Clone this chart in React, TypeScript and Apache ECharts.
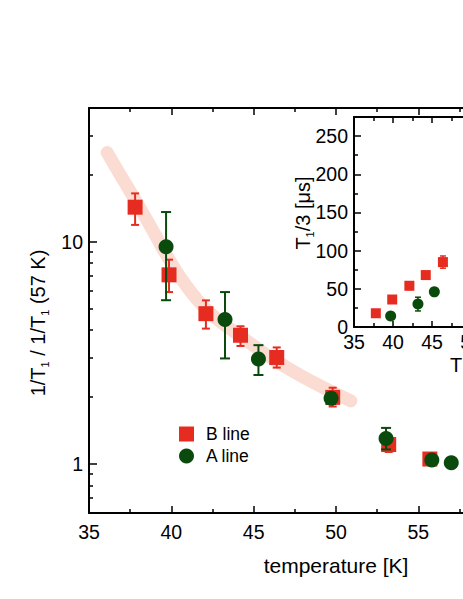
import React, { useEffect, useRef } from "react";
import * as echarts from "echarts";

// ---- main panel data: 1/T1 normalised to 57 K ----
const bLineT = [37.8, 39.86, 42.1, 44.2, 46.4, 49.8, 53.2, 55.7];
const bLineRate = [14.3, 7.09, 4.74, 3.79, 3.01, 1.99, 1.22, 1.05];
const bLineLow = [11.9, 5.93, 4.06, 3.39, 2.71, 1.81, 1.13, 1.01];
const bLineHigh = [16.5, 8.3, 5.44, 4.16, 3.34, 2.2, 1.31, 1.09];

const aLineT = [39.68, 43.26, 45.29, 49.7, 53.04, 55.82, 57.0];
const aLineRate = [9.5, 4.46, 2.96, 1.97, 1.3, 1.04, 1.01];
const aLineLow = [5.45, 2.98, 2.51, 1.86, 1.16, 1.0, 0.97];
const aLineHigh = [13.6, 5.93, 3.42, 2.08, 1.45, 1.08, 1.06];

// guide-to-the-eye band
const bandT = [36.1, 37.0, 38.0, 39.0, 40.0, 41.0, 42.0, 43.0, 44.0, 46.0, 48.0, 50.9];
const bandRate = [25.2, 19.4, 14.6, 10.8, 8.0, 6.2, 5.05, 4.35, 3.85, 3.02, 2.46, 1.92];

// ---- inset data: T1/3 in microseconds ----
const insetBT = [37.8, 39.9, 42.1, 44.2, 46.4];
const insetBVal = [18, 36, 54, 68, 85];
const insetBErr = [2, 3, 5, 3, 8];
const insetAT = [39.7, 43.2, 45.3, 49.7];
const insetAVal = [14.5, 30, 46, 69];
const insetAErr = [2, 9, 3, 3];

// ---- tick values ----
const mainYMajor = [1, 10];
const mainYMinor = [0.7, 0.8, 0.9, 2, 3, 4, 5, 6, 7, 8, 9, 20, 30];
const insetYMajor = [0, 50, 100, 150, 200, 250];
const insetYMinor = [25, 75, 125, 175, 225];

const FONT = '"Liberation Sans", Arial, Helvetica, sans-serif';
const RED = "#e62c20";
const GREEN = "#0a4a0c";
const BAND = "#fbdcd3";

function errRender(capHalf: number, color: string, width: number) {
  return (params: any, api: any) => {
    const x = api.value(0);
    const lo = api.value(1);
    const hi = api.value(2);
    const pHi = api.coord([x, hi]);
    const pLo = api.coord([x, lo]);
    const style = { stroke: color, lineWidth: width };
    return {
      type: "group",
      children: [
        { type: "line", shape: { x1: pHi[0], y1: pHi[1], x2: pLo[0], y2: pLo[1] }, style },
        { type: "line", shape: { x1: pHi[0] - capHalf, y1: pHi[1], x2: pHi[0] + capHalf, y2: pHi[1] }, style },
        { type: "line", shape: { x1: pLo[0] - capHalf, y1: pLo[1], x2: pLo[0] + capHalf, y2: pLo[1] }, style },
      ],
    };
  };
}

const axisLineStyle = { color: "#000", width: 2 };
const tickStyle = { color: "#000", width: 1.5 };
const labelStyle = { color: "#000", fontSize: 19.5, fontFamily: FONT };

export default function App() {
  const ref = useRef<HTMLDivElement>(null);
  useEffect(() => {
    if (!ref.current) return;
    const chart = echarts.init(ref.current, null, { renderer: "svg" });
    const lmin = Math.log10(0.6);
    const lmax = Math.log10(40);

    const xMainCommon = {
      type: "value",
      gridIndex: 0,
      min: 35,
      max: 65,
      interval: 5,
      splitLine: { show: false },
      axisLine: { onZero: false, lineStyle: axisLineStyle },
      axisTick: { inside: true, length: 7, lineStyle: tickStyle },
      minorTick: { show: true, splitNumber: 2, length: 4, lineStyle: tickStyle },
    };
    const xInsetCommon = {
      type: "value",
      gridIndex: 1,
      min: 35,
      max: 65,
      interval: 5,
      splitLine: { show: false },
      axisLine: { onZero: false, lineStyle: axisLineStyle },
      axisTick: { inside: true, length: 6, lineStyle: tickStyle },
      minorTick: { show: true, splitNumber: 2, length: 4, lineStyle: tickStyle },
    };

    chart.setOption({
      animation: false,
      backgroundColor: "#fff",
      textStyle: { fontFamily: FONT },
      grid: [
        { left: 89, top: 108, width: 494, height: 405 },
        { left: 354, top: 117, width: 234, height: 210 },
      ],
      legend: {
        orient: "vertical",
        left: 174,
        top: 420,
        itemWidth: 15,
        itemHeight: 15,
        itemGap: 4,
        textStyle: { fontSize: 17.5, color: "#000", fontFamily: FONT, padding: [0, 0, 0, 7] },
        data: [
          { name: "B line", icon: "rect" },
          { name: "A line", icon: "circle" },
        ],
      },
      xAxis: [
        {
          ...xMainCommon,
          position: "bottom",
          axisLabel: { ...labelStyle, margin: 9 },
          name: "temperature [K]",
          nameLocation: "middle",
          nameGap: 42,
          nameTextStyle: { fontSize: 21, color: "#000", fontFamily: FONT },
        },
        { ...xMainCommon, position: "top", axisLabel: { show: false } },
        {
          ...xInsetCommon,
          position: "bottom",
          axisLabel: { ...labelStyle, margin: 5 },
          name: "T [K]",
          nameLocation: "middle",
          nameGap: 28,
          nameTextStyle: { fontSize: 20, color: "#000", fontFamily: FONT },
        },
        { ...xInsetCommon, position: "top", axisLabel: { show: false } },
      ],
      yAxis: [
        { type: "log", gridIndex: 0, min: 0.6, max: 40, logBase: 10, show: false },
        {
          type: "value",
          gridIndex: 0,
          position: "left",
          min: lmin,
          max: lmax,
          splitLine: { show: false },
          axisLine: { show: true, onZero: false, lineStyle: axisLineStyle },
          axisTick: {
            inside: true,
            length: 8,
            lineStyle: tickStyle,
            customValues: mainYMajor.map((v) => Math.log10(v)),
          },
          axisLabel: {
            ...labelStyle,
            margin: 6,
            customValues: mainYMajor.map((v) => Math.log10(v)),
            formatter: (v: number) => String(Math.round(Math.pow(10, v))),
          },
        },
        {
          type: "value",
          gridIndex: 0,
          position: "left",
          min: lmin,
          max: lmax,
          splitLine: { show: false },
          axisLine: { show: false, onZero: false },
          axisTick: {
            inside: true,
            length: 4,
            lineStyle: tickStyle,
            customValues: mainYMinor.map((v) => Math.log10(v)),
          },
          axisLabel: { show: false },
        },
        {
          type: "value",
          gridIndex: 1,
          position: "left",
          min: 0,
          max: 275,
          splitLine: { show: false },
          axisLine: { show: true, onZero: false, lineStyle: axisLineStyle },
          axisTick: { inside: true, length: 7, lineStyle: tickStyle, customValues: insetYMajor },
          axisLabel: { ...labelStyle, margin: 6, customValues: insetYMajor },
        },
        {
          type: "value",
          gridIndex: 1,
          position: "left",
          min: 0,
          max: 275,
          splitLine: { show: false },
          axisLine: { show: false, onZero: false },
          axisTick: { inside: true, length: 4, lineStyle: tickStyle, customValues: insetYMinor },
          axisLabel: { show: false },
        },
      ],
      graphic: [
        {
          type: "text",
          x: 38,
          y: 323,
          rotation: Math.PI / 2,
          style: {
            text: "1/T{s|1} / 1/T{s|1} (57 K)",
            fontSize: 20,
            fontFamily: FONT,
            fill: "#000",
            lineHeight: 24,
            align: "center",
            verticalAlign: "middle",
            rich: { s: { fontSize: 11, lineHeight: 11, verticalAlign: "bottom", fontFamily: FONT, fill: "#000" } },
          },
        },
        {
          type: "text",
          x: 303,
          y: 213,
          rotation: Math.PI / 2,
          style: {
            text: "T{s|1}/3 [μs]",
            fontSize: 20,
            fontFamily: FONT,
            fill: "#000",
            lineHeight: 24,
            align: "center",
            verticalAlign: "middle",
            rich: { s: { fontSize: 11, lineHeight: 11, verticalAlign: "bottom", fontFamily: FONT, fill: "#000" } },
          },
        },
      ],
      series: [
        {
          type: "line",
          name: "band",
          xAxisIndex: 0,
          yAxisIndex: 0,
          data: bandT.map((t, i) => [t, bandRate[i]]),
          smooth: 0.5,
          symbol: "none",
          lineStyle: { color: BAND, width: 13, cap: "round", join: "round" },
          z: 1,
        },
        {
          type: "custom",
          name: "B err",
          xAxisIndex: 0,
          yAxisIndex: 0,
          renderItem: errRender(4, RED, 2),
          data: bLineT.map((t, i) => [t, bLineLow[i], bLineHigh[i]]),
          encode: { x: 0, y: [1, 2] },
          z: 2,
        },
        {
          type: "scatter",
          name: "B line",
          xAxisIndex: 0,
          yAxisIndex: 0,
          symbol: "rect",
          symbolSize: 15,
          itemStyle: { color: RED, opacity: 1 },
          data: bLineT.map((t, i) => [t, bLineRate[i]]),
          z: 3,
        },
        {
          type: "custom",
          name: "A err",
          xAxisIndex: 0,
          yAxisIndex: 0,
          renderItem: errRender(5, GREEN, 2),
          data: aLineT.map((t, i) => [t, aLineLow[i], aLineHigh[i]]),
          encode: { x: 0, y: [1, 2] },
          z: 4,
        },
        {
          type: "scatter",
          name: "A line",
          xAxisIndex: 0,
          yAxisIndex: 0,
          symbol: "circle",
          symbolSize: 15,
          itemStyle: { color: GREEN, opacity: 1 },
          data: aLineT.map((t, i) => [t, aLineRate[i]]),
          z: 5,
        },
        // inset
        {
          type: "custom",
          name: "inset B err",
          xAxisIndex: 2,
          yAxisIndex: 3,
          renderItem: errRender(3, RED, 1.5),
          data: insetBT.map((t, i) => [t, insetBVal[i] - insetBErr[i], insetBVal[i] + insetBErr[i]]),
          encode: { x: 0, y: [1, 2] },
          z: 2,
        },
        {
          type: "scatter",
          name: "inset B",
          xAxisIndex: 2,
          yAxisIndex: 3,
          symbol: "rect",
          symbolSize: 10,
          itemStyle: { color: RED, opacity: 1 },
          data: insetBT.map((t, i) => [t, insetBVal[i]]),
          z: 3,
        },
        {
          type: "custom",
          name: "inset A err",
          xAxisIndex: 2,
          yAxisIndex: 3,
          renderItem: errRender(3, GREEN, 1.5),
          data: insetAT.map((t, i) => [t, insetAVal[i] - insetAErr[i], insetAVal[i] + insetAErr[i]]),
          encode: { x: 0, y: [1, 2] },
          z: 4,
        },
        {
          type: "scatter",
          name: "inset A",
          xAxisIndex: 2,
          yAxisIndex: 3,
          symbol: "circle",
          symbolSize: 11,
          itemStyle: { color: GREEN, opacity: 1 },
          data: insetAT.map((t, i) => [t, insetAVal[i]]),
          z: 5,
        },
      ],
    });
    return () => chart.dispose();
  }, []);
  return (
    <div
      style={{
        position: "fixed",
        left: 0,
        top: 0,
        width: 463,
        height: 599,
        overflow: "hidden",
        background: "#fff",
      }}
    >
      <div ref={ref} style={{ position: "absolute", left: 0, top: 0, width: 640, height: 599 }} />
    </div>
  );
}
